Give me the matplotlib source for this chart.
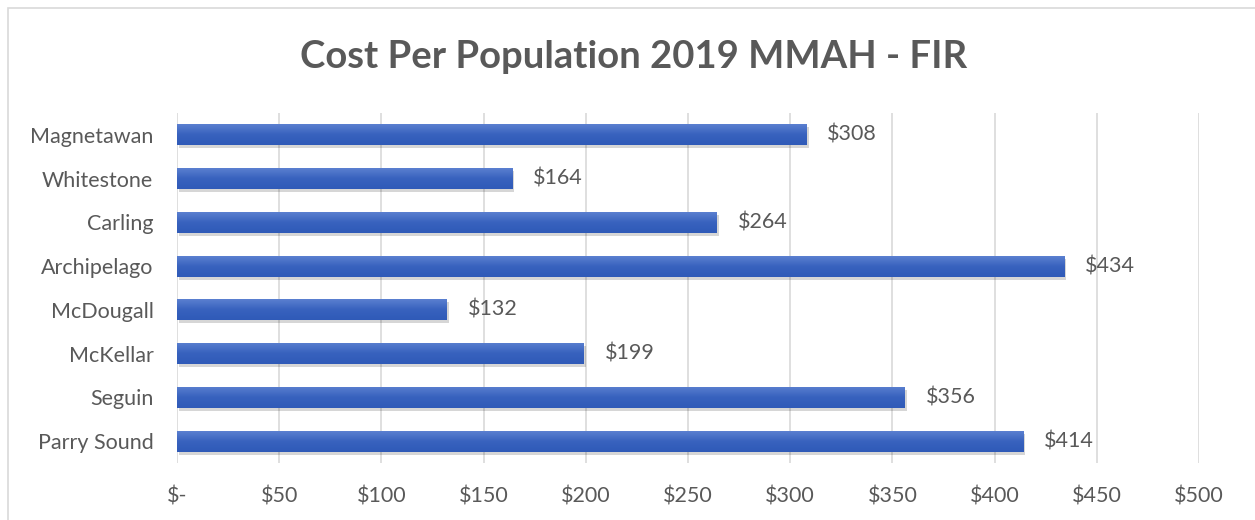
import matplotlib
matplotlib.use("Agg")
import matplotlib.pyplot as plt
import numpy as np
from matplotlib.patches import Rectangle
from matplotlib.colors import LinearSegmentedColormap
import matplotlib.transforms as mtransforms

categories = ["Magnetawan", "Whitestone", "Carling", "Archipelago",
              "McDougall", "McKellar", "Seguin", "Parry Sound"]
values = [308, 164, 264, 434, 132, 199, 356, 414]
tick_values = [0, 50, 100, 150, 200, 250, 300, 350, 400, 450, 500]
tick_labels = ["$-", "$50", "$100", "$150", "$200", "$250", "$300",
               "$350", "$400", "$450", "$500"]
title = "Cost Per Population 2019 MMAH - FIR"

plt.rcParams['font.family'] = ['Lato', 'DejaVu Sans']
text_color = "#595959"
fs = 15.5

fig = plt.figure(figsize=(12.55, 5.2), dpi=100)
fig.patches.append(Rectangle((8/1255, -0.1), 1.2, 1 - 8/520 + 0.1,
                             transform=fig.transFigure, fill=False,
                             edgecolor="#D9D9D9", linewidth=1.2))

ax = fig.add_axes([177/1255, 57/520, 1022/1255, 350/520])
n = len(categories)
ypos = np.arange(n)
bar_h = 0.48

cmap = LinearSegmentedColormap.from_list("bar", ["#5B80D0", "#3862BE", "#2F5AB8"])

# shadows
shadow_off = mtransforms.offset_copy(ax.transData, fig=fig, x=2, y=-3, units='dots')
ax.barh(ypos, values, height=bar_h, color="#000000", alpha=0.16,
        transform=shadow_off, zorder=2, linewidth=0)
bars = ax.barh(ypos, values, height=bar_h, color="#4472C4", zorder=3, linewidth=0)
grad = np.linspace(0, 1, 256).reshape(-1, 1)
for b in bars:
    x0, y0 = b.get_x(), b.get_y()
    w, h = b.get_width(), b.get_height()
    im = ax.imshow(grad, cmap=cmap, aspect='auto', interpolation='bilinear',
                   extent=[x0, x0 + w, y0 + h, y0], origin='upper', zorder=4)
    im.set_clip_path(b)

for y, v in zip(ypos, values):
    ax.annotate(f"${v}", (v, y), xytext=(15, 0), textcoords='offset points',
                ha='left', va='center', fontsize=fs, color=text_color, zorder=5)

ax.set_xlim(0, 500)
ax.set_ylim(n - 0.5, -0.5)
ax.set_yticks(ypos)
ax.set_yticklabels(categories, fontsize=fs, color=text_color)
ax.set_xticks(tick_values)
ax.set_xticklabels(tick_labels, fontsize=fs, color=text_color)
ax.tick_params(axis='both', length=0)
ax.tick_params(axis='x', pad=17)
ax.tick_params(axis='y', pad=17)
ax.grid(axis='x', color="#D9D9D9", linewidth=1.2, zorder=0)
ax.set_axisbelow(True)
for s in ax.spines.values():
    s.set_visible(False)

fig.text(0.505, 1 - 57/520, title, ha='center', va='center', fontsize=27.5,
         fontweight='bold', color=text_color)

fig.savefig("out.png", dpi=100)
